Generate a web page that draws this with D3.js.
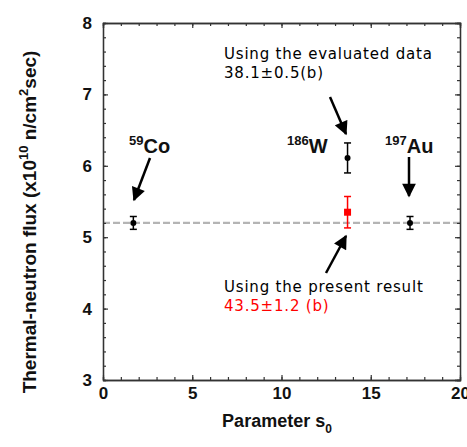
<!DOCTYPE html>
<html>
<head>
<meta charset="utf-8">
<script src="https://d3js.org/d3.v7.min.js"></script>
<style>
body { margin: 0; background: #fff; }
text { font-family: "Liberation Sans", Arial, sans-serif; }
.ann { font-family: "DejaVu Sans", sans-serif; font-size: 15px; letter-spacing: 0.8px; }
</style>
</head>
<body>
<svg id="chart" width="467" height="447"></svg>
<script>
// data
const xTicks = [0, 5, 10, 15, 20];
const yTicks = [3, 4, 5, 6, 7, 8];
const refFlux = 5.2;
const points = [
  { name: "Co", mass: "59", x: 1.7, y: 5.2, err: 0.09, color: "black", shape: "circle" },
  { name: "W", mass: "186", x: 13.7, y: 6.11, err: 0.21, color: "black", shape: "circle" },
  { name: "W", mass: "186", x: 13.7, y: 5.35, err: 0.22, color: "red", shape: "square" },
  { name: "Au", mass: "197", x: 17.2, y: 5.2, err: 0.09, color: "black", shape: "circle" }
];

const margin = { left: 103, right: 7, top: 23, bottom: 67 };
const W = 467, H = 447;
const svg = d3.select("#chart");

const x = d3.scaleLinear().domain([0, 20]).range([margin.left, W - margin.right]);
const y = d3.scaleLinear().domain([3, 8]).range([H - margin.bottom, margin.top]);

svg.append("defs").append("marker")
  .attr("id", "ah").attr("viewBox", "0 0 10 10").attr("refX", 9).attr("refY", 5)
  .attr("markerWidth", 6).attr("markerHeight", 5.5).attr("markerUnits", "strokeWidth")
  .attr("orient", "auto")
  .append("path").attr("d", "M0,0 L10,5 L0,10 z").attr("fill", "black");

// reference line
svg.append("line")
  .attr("x1", x(0)).attr("x2", x(20)).attr("y1", y(refFlux)).attr("y2", y(refFlux))
  .attr("stroke", "#b4b4b4").attr("stroke-width", 2.2).attr("stroke-dasharray", "7,3");

// axes
const tickIn = -5, minorIn = -3;
function styleAxis(g) {
  g.select(".domain").attr("stroke", "#333").attr("stroke-width", 1.3);
  g.selectAll(".tick line").attr("stroke", "#333").attr("stroke-width", 1.2);
  g.selectAll("text").attr("font-size", 17).attr("font-weight", "bold").attr("fill", "#111");
}
const minorX = d3.range(0, 21, 1), minorY = d3.range(3, 8.01, 0.2);

svg.append("g").attr("transform", `translate(0,${y(3)})`)
  .call(d3.axisBottom(x).tickValues(minorX).tickSize(minorIn).tickFormat(""))
  .call(styleAxis);
svg.append("g").attr("transform", `translate(0,${y(3)})`)
  .call(d3.axisBottom(x).tickValues(xTicks).tickSize(tickIn).tickSizeOuter(0).tickPadding(5).tickFormat(d3.format("d")))
  .call(styleAxis)
  .call(g => g.selectAll("text").attr("dy", "0.85em"));
svg.append("g").attr("transform", `translate(0,${y(8)})`)
  .call(d3.axisTop(x).tickValues(minorX).tickSize(minorIn).tickFormat(""))
  .call(styleAxis);
svg.append("g").attr("transform", `translate(0,${y(8)})`)
  .call(d3.axisTop(x).tickValues(xTicks).tickSize(tickIn).tickFormat(""))
  .call(styleAxis);

svg.append("g").attr("transform", `translate(${x(0)},0)`)
  .call(d3.axisLeft(y).tickValues(minorY).tickSize(minorIn).tickFormat(""))
  .call(styleAxis);
svg.append("g").attr("transform", `translate(${x(0)},0)`)
  .call(d3.axisLeft(y).tickValues(yTicks).tickSize(tickIn).tickSizeOuter(0).tickPadding(11).tickFormat(d3.format("d")))
  .call(styleAxis);
svg.append("g").attr("transform", `translate(${x(20)},0)`)
  .call(d3.axisRight(y).tickValues(minorY).tickSize(minorIn).tickFormat(""))
  .call(styleAxis);
svg.append("g").attr("transform", `translate(${x(20)},0)`)
  .call(d3.axisRight(y).tickValues(yTicks).tickSize(tickIn).tickFormat(""))
  .call(styleAxis);

// error bars and markers
const pts = svg.append("g");
points.forEach(p => {
  const g = pts.append("g").attr("stroke", p.color).attr("stroke-width", 1.5);
  const cx = x(p.x);
  g.append("line").attr("x1", cx).attr("x2", cx).attr("y1", y(p.y - p.err)).attr("y2", y(p.y + p.err));
  [p.y - p.err, p.y + p.err].forEach(v =>
    g.append("line").attr("x1", cx - 3.5).attr("x2", cx + 3.5).attr("y1", y(v)).attr("y2", y(v)));
  if (p.shape === "circle") {
    g.append("circle").attr("cx", cx).attr("cy", y(p.y)).attr("r", 3).attr("fill", p.color).attr("stroke", "none");
  } else {
    g.append("rect").attr("x", cx - 3.5).attr("y", y(p.y) - 3.5).attr("width", 7).attr("height", 7)
      .attr("fill", p.color).attr("stroke", "none");
  }
});

// isotope labels
const labels = [
  { mass: "59", el: "Co", px: 129, py: 153 },
  { mass: "186", el: "W", px: 287, py: 153 },
  { mass: "197", el: "Au", px: 385, py: 153 }
];
labels.forEach(l => {
  const t = svg.append("text").attr("x", l.px).attr("y", l.py)
    .attr("font-weight", "bold").attr("font-size", 20).attr("fill", "#111");
  t.append("tspan").attr("font-size", 13).attr("dy", -8).text(l.mass);
  t.append("tspan").attr("dy", 8).text(l.el);
});

// arrows
const arrows = [
  [150, 158, 134, 200],
  [330, 97, 346, 134],
  [409, 157, 409, 196],
  [326, 273, 346, 236]
];
arrows.forEach(a => {
  svg.append("line").attr("x1", a[0]).attr("y1", a[1]).attr("x2", a[2]).attr("y2", a[3])
    .attr("stroke", "black").attr("stroke-width", 2.5).attr("marker-end", "url(#ah)");
});

// annotations
svg.append("text").attr("class", "ann").attr("x", 224).attr("y", 59).text("Using the evaluated data");
svg.append("text").attr("class", "ann").attr("x", 224).attr("y", 78).text("38.1±0.5(b)");
svg.append("text").attr("class", "ann").attr("x", 224).attr("y", 292).text("Using the present result");
svg.append("text").attr("class", "ann").attr("x", 224).attr("y", 311).attr("fill", "red").text("43.5±1.2 (b)");

// axis titles
const xt = svg.append("text").attr("x", 277).attr("y", 427).attr("text-anchor", "middle")
  .attr("font-weight", "bold").attr("font-size", 18).attr("fill", "#111");
xt.append("tspan").text("Parameter s");
xt.append("tspan").attr("font-size", 12).attr("dy", 6).text("0");

const yt = svg.append("text").attr("transform", "translate(36,222) rotate(-90)")
  .attr("text-anchor", "middle").attr("font-weight", "bold").attr("font-size", 19).attr("fill", "#111");
yt.append("tspan").text("Thermal-neutron flux (x10");
yt.append("tspan").attr("font-size", 13).attr("dy", -8).text("10");
yt.append("tspan").attr("dy", 8).text("  n/cm");
yt.append("tspan").attr("font-size", 13).attr("dy", -8).text("2");
yt.append("tspan").attr("dy", 8).text("sec)");
</script>
</body>
</html>
